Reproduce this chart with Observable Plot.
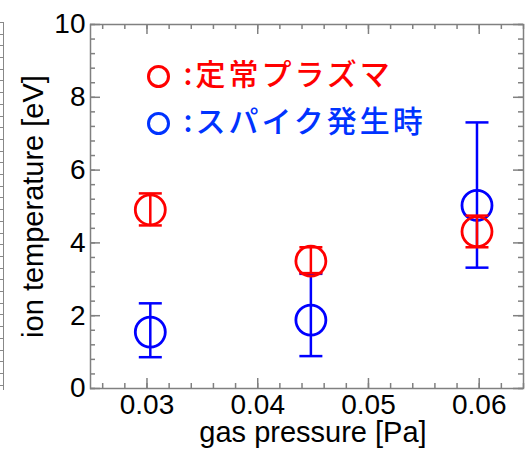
<!DOCTYPE html>
<html><head><meta charset="utf-8">
<script src="https://cdn.jsdelivr.net/npm/d3@7"></script>
<script src="https://cdn.jsdelivr.net/npm/@observablehq/plot@0.6"></script>
<style>
body{margin:0;background:#fff;}
#wrap{position:relative;width:530px;height:451px;}
#edge{position:absolute;left:0;top:22px;width:3px;height:368px;border-right:1.5px solid #888;
 background: repeating-linear-gradient(to bottom, #888 0 1px, transparent 1px 11.7px);}
#wrap svg{position:absolute;left:0;top:0;}
</style></head><body><div id="wrap"><div id="edge"></div></div>
<script>
// data
const pressure = [0.0303, 0.0448, 0.0598];
const steadyT  = [4.91, 3.50, 4.31];
const steadyLo = [4.48, 3.17, 3.88];
const steadyHi = [5.36, 3.88, 4.75];
const spikeT   = [1.55, 1.88, 5.03];
const spikeLo  = [0.86, 0.89, 3.32];
const spikeHi  = [2.34, 3.15, 7.31];
const xTicks = [0.03, 0.04, 0.05, 0.06];
const yTicks = [0, 2, 4, 6, 8, 10];
const xDomain = [0.0249, 0.064];
const yDomain = [0, 10];
const legendLabels = [":定常プラズマ", ":スパイク発生時"];
const xLabel = "gas pressure [Pa]";
const yLabel = "ion temperature [eV]";

const W = 530, H = 451, mL = 90, mR = 7, mT = 24, mB = 63;
const fw = W - mL - mR, fh = H - mT - mB;
const RED = "#ff0000", BLUE = "#0000ff", LBLUE = "#0033ff";

const steady = pressure.map((x, i) => ({x, t: steadyT[i], lo: steadyLo[i], hi: steadyHi[i]}));
const spike = pressure.map((x, i) => ({x, t: spikeT[i], lo: spikeLo[i], hi: spikeHi[i]}));
const xMinor = d3.range(0.026, 0.0641, 0.002).map(v => +v.toFixed(3));
const yMinor = d3.range(0, 10.01, 0.4).map(v => +v.toFixed(1));

const cap = {draw(ctx) { ctx.moveTo(-11.5, 0); ctx.lineTo(11.5, 0); }};
const font = "Liberation Sans, Arial, sans-serif";
const cjk = "Noto Sans CJK JP, sans-serif";

function series(d, color) {
  return [
    Plot.ruleX(d, {x: "x", y1: "lo", y2: "hi", stroke: color, strokeWidth: 2.5}),
    Plot.dot(d, {x: "x", y: "lo", symbol: cap, stroke: color, strokeWidth: 2.5, fill: "none"}),
    Plot.dot(d, {x: "x", y: "hi", symbol: cap, stroke: color, strokeWidth: 2.5, fill: "none"}),
    Plot.dot(d, {x: "x", y: "t", r: 15, stroke: color, strokeWidth: 2.8, fill: "none"})
  ];
}
const tickStyle = {stroke: "#808080", strokeWidth: 1.5};

const plot = Plot.plot({
  width: W, height: H,
  marginLeft: mL, marginRight: mR, marginTop: mT, marginBottom: mB,
  style: {fontFamily: font, background: "transparent", color: "#000"},
  x: {domain: xDomain, axis: null},
  y: {domain: yDomain, axis: null},
  marks: [
    // inward ticks
    Plot.ruleX(xMinor, {x: d => d, insetTop: fh - 5, ...tickStyle}),
    Plot.ruleX(xMinor, {x: d => d, insetBottom: fh - 5, ...tickStyle}),
    Plot.ruleX(xTicks, {x: d => d, insetTop: fh - 10, ...tickStyle}),
    Plot.ruleX(xTicks, {x: d => d, insetBottom: fh - 10, ...tickStyle}),
    Plot.ruleY(yMinor, {y: d => d, insetRight: fw - 5, ...tickStyle}),
    Plot.ruleY(yMinor, {y: d => d, insetLeft: fw - 5, ...tickStyle}),
    Plot.ruleY(yTicks, {y: d => d, insetRight: fw - 10, ...tickStyle}),
    Plot.ruleY(yTicks, {y: d => d, insetLeft: fw - 10, ...tickStyle}),
    Plot.frame({stroke: "#808080", strokeWidth: 1.5}),
    Plot.axisX({ticks: xTicks, tickSize: 0, tickPadding: 6, fontSize: 28, label: null, tickFormat: d3.format(".2f"), fill: "#000"}),
    Plot.axisY({ticks: yTicks, tickSize: 0, tickPadding: 5, fontSize: 28, label: null, fill: "#000"}),
    Plot.text([xLabel], {frameAnchor: "bottom", dx: 6, dy: 44, textAnchor: "middle", lineAnchor: "middle", fontSize: 29, fill: "#000"}),
    Plot.text([yLabel], {frameAnchor: "left", dx: -57, rotate: -90, textAnchor: "middle", lineAnchor: "middle", fontSize: 29, fill: "#000"}),
    ...series(spike, BLUE),
    ...series(steady, RED),
    // legend
    Plot.dot([0], {frameAnchor: "top-left", dx: 68, dy: 52, r: 10, stroke: RED, strokeWidth: 3, fill: "none"}),
    Plot.dot([0], {frameAnchor: "top-left", dx: 68, dy: 99, r: 10, stroke: LBLUE, strokeWidth: 3, fill: "none"}),
    Plot.text([legendLabels[0]], {frameAnchor: "top-left", dx: 93, dy: 51, textAnchor: "start", lineAnchor: "middle", fontSize: 30, fontWeight: 500, fill: RED, fontFamily: cjk}),
    Plot.text([legendLabels[1]], {frameAnchor: "top-left", dx: 93, dy: 98, textAnchor: "start", lineAnchor: "middle", fontSize: 30, fontWeight: 500, fill: LBLUE, fontFamily: cjk})
  ]
});
plot.querySelectorAll("text").forEach(t => {
  if (legendLabels.includes(t.textContent)) t.style.letterSpacing = "3px";
});
document.getElementById("wrap").appendChild(plot);
</script>
</body></html>
